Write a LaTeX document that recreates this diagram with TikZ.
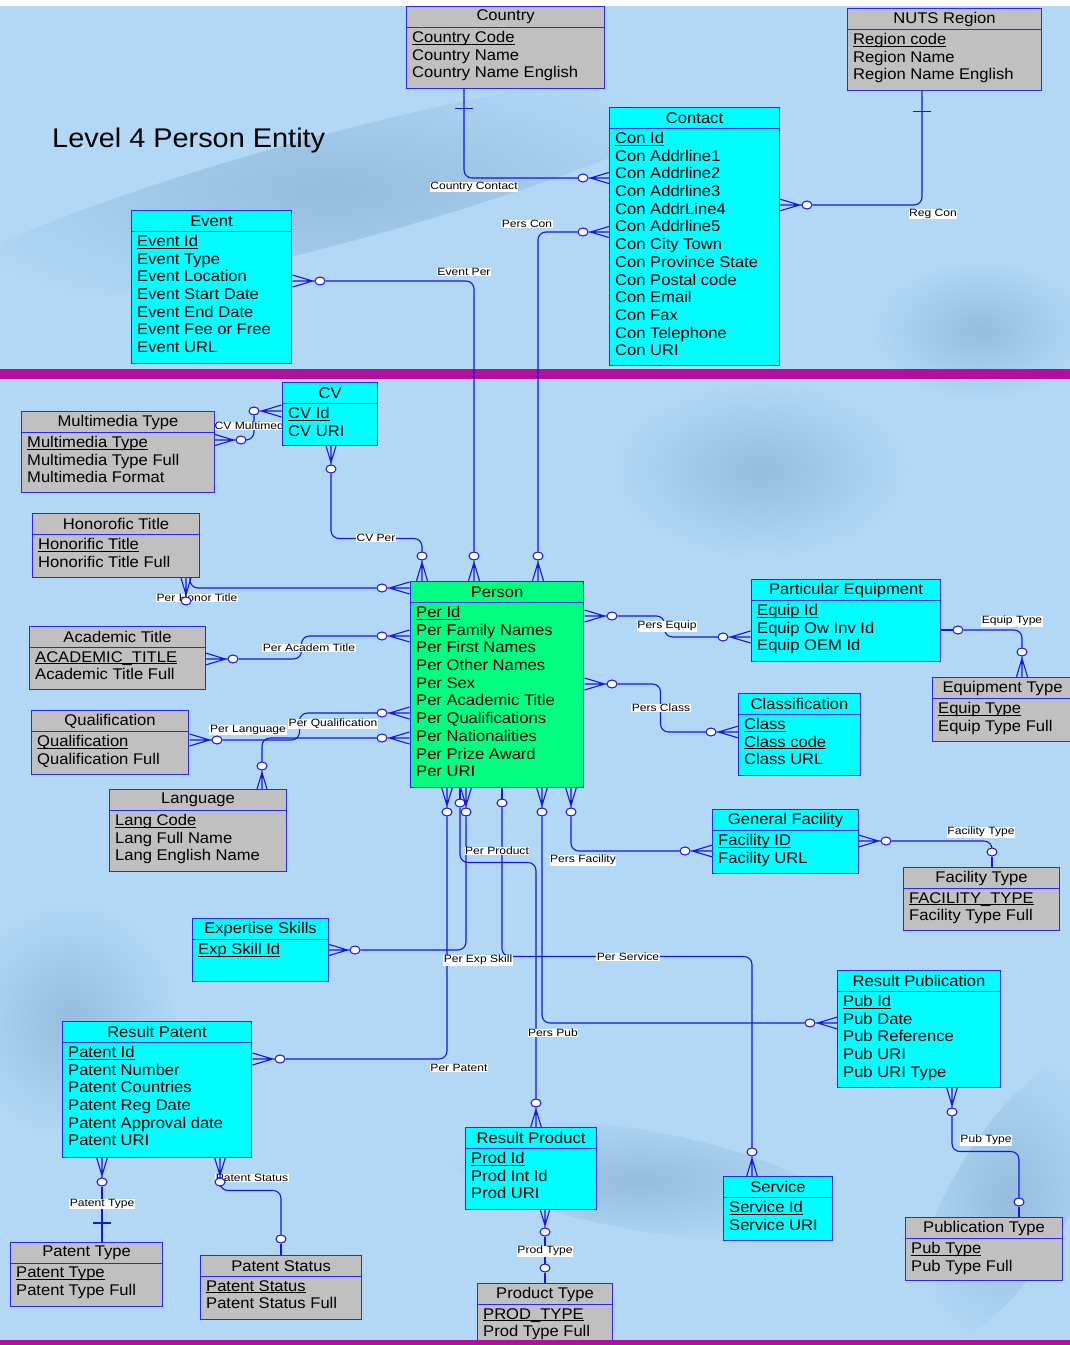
\documentclass[tikz,border=0pt]{standalone}
\usepackage{fontspec}
\setmainfont{Liberation Sans}[FakeStretch=1.07]
\newfontfamily\lblfam{Liberation Sans}[FakeStretch=1.15]
\usetikzlibrary{shapes.geometric,calc}

\pgfdeclarelayer{back}
\pgfdeclarelayer{links}
\pgfdeclarelayer{tags}
\pgfsetlayers{back,links,tags,main}

\definecolor{bgblue}{RGB}{178,216,246}
\definecolor{bgdark}{RGB}{150,188,222}
\definecolor{barpurple}{RGB}{176,16,156}
\definecolor{boxblue}{RGB}{40,40,240}
\definecolor{linkblue}{RGB}{20,20,235}
\definecolor{entcyan}{RGB}{0,255,255}
\definecolor{entgray}{RGB}{192,192,192}
\definecolor{entgreen}{RGB}{0,255,128}

\newcommand\entfont{\fontsize{15.5}{17.7}\selectfont}
\newcommand\lblfont{\lblfam\fontsize{10.5}{12}\selectfont}
\newcommand\keyattr[1]{\setbox0\hbox{#1}\rlap{\rule[-2pt]{\wd0}{0.8pt}}\box0}
% entity: name, fill, corner, width, height, title, attributes
\newcommand\entity[7]{%
  \node[ebox, fill=#2, minimum width=#4pt, minimum height=#5pt] (#1) at (#3) {};
  \draw[eline] ([yshift=-21.5pt]#1.north west) -- ([yshift=-21.5pt]#1.north east);
  \node[etitle] (#1-t) at ([yshift=-11pt]#1.north) {#6};
  \node[eattr] (#1-a) at ([xshift=6pt,yshift=-25pt]#1.north west) {#7};
}

\begin{document}
\begin{tikzpicture}[x=1pt,y=-1pt]
  \tikzset{
    ebox/.style={draw=boxblue, line width=1.1pt, anchor=north west, inner sep=0pt},
    eline/.style={draw=boxblue, line width=1.1pt},
    etitle/.style={inner sep=0pt, font=\entfont},
    eattr/.style={anchor=north west, align=left, inner sep=0pt, font=\entfont},
    ring/.style={ellipse, draw=linkblue, fill=white, line width=1pt, minimum width=10pt, minimum height=8pt, inner sep=0pt},
    conn/.style={draw=linkblue, line width=1.1pt, rounded corners=8pt},
    rlabel/.style={fill=white, inner sep=0.6pt, font=\lblfont},
    crow/.pic={\draw[conn, sharp corners] (0,0) -- (2,0) -- (22,6) (2,0) -- (22,0) (2,0) -- (22,-6);},
    onebar/.pic={\draw[conn] (0,-9) -- (0,9);}
  }
  \useasboundingbox (0,0) rectangle (1070,1345);

  % background
  \begin{pgfonlayer}{back}
    \fill[white] (0,0) rectangle (1070,1345);
    \fill[bgblue] (0,6) rectangle (1070,1345);
    \shade[inner color=bgdark, outer color=bgblue, shift={(330,190)}, rotate=15] (0,0) ellipse (420 and 55);
    \shade[inner color=bgdark, outer color=bgblue, shift={(760,470)}] (0,0) ellipse (150 and 90);
    \shade[inner color=bgdark, outer color=bgblue, shift={(70,1020)}] (0,0) ellipse (110 and 120);
    \shade[inner color=bgdark, outer color=bgblue, shift={(1010,1200)}, rotate=60] (0,0) ellipse (160 and 60);
    \shade[inner color=bgdark, outer color=bgblue, shift={(640,1180)}, rotate=-10] (0,0) ellipse (200 and 50);
    \shade[inner color=bgdark, outer color=bgblue, shift={(980,330)}] (0,0) ellipse (110 and 70);
    \fill[barpurple] (0,369) rectangle (1070,379);
  \end{pgfonlayer}

  \node[anchor=west, inner sep=0pt, font=\fontsize{27}{32}\selectfont] (title) at (52,141) {Level 4 Person Entity};

  % relationship ends
  \node[ring] (cc1) at (583,178) {};
  \node[ring] (rc1) at (807,205) {};
  \node[ring] (pc1) at (583,232) {};
  \node[ring] (pc2) at (538,556) {};
  \node[ring] (ep1) at (320,281) {};
  \node[ring] (ep2) at (474,556) {};
  \node[ring] (cm1) at (254,411) {};
  \node[ring] (cm2) at (241,440) {};
  \node[ring] (cv1) at (331,469) {};
  \node[ring] (cv2) at (422,556) {};
  \node[ring] (ph1) at (382,588) {};
  \node[ring] (ph2) at (186,601) {};
  \node[ring] (pa1) at (233,659) {};
  \node[ring] (pa2) at (382,636) {};
  \node[ring] (pq1) at (217,740) {};
  \node[ring] (pq2) at (382,713) {};
  \node[ring] (pl1) at (262,766) {};
  \node[ring] (pl2) at (382,738) {};
  \node[ring] (pe1) at (612,616) {};
  \node[ring] (pe2) at (723,637) {};
  \node[ring] (et1) at (958,630) {};
  \node[ring] (et2) at (1022,652) {};
  \node[ring] (pk1) at (612,684) {};
  \node[ring] (pk2) at (711,732) {};
  \node[ring] (ft1) at (886,841) {};
  \node[ring] (ft2) at (992,852) {};
  \node[ring] (pf1) at (571,812) {};
  \node[ring] (pf2) at (685,851) {};
  \node[ring] (px1) at (466,812) {};
  \node[ring] (px2) at (355,950) {};
  \node[ring] (pp1) at (460,803) {};
  \node[ring] (pp2) at (536,1103) {};
  \node[ring] (ps1) at (502,803) {};
  \node[ring] (ps2) at (752,1152) {};
  \node[ring] (pb1) at (542,812) {};
  \node[ring] (pb2) at (810,1023) {};
  \node[ring] (pt1) at (447,812) {};
  \node[ring] (pt2) at (280,1059) {};
  \node[ring] (pu1) at (952,1112) {};
  \node[ring] (pu2) at (1019,1202) {};
  \node[ring] (pd1) at (545,1232) {};
  \node[ring] (pd2) at (545,1268) {};
  \node[ring] (tt1) at (102,1182) {};
  \node[ring] (ts1) at (220,1182) {};
  \node[ring] (ts2) at (281,1239) {};

  \foreach \anc/\ang in {cc1.east/0, rc1.west/180, pc1.east/0, pc2.south/-90, ep1.west/180,
      ep2.south/-90, cm1.east/0, cm2.west/180, cv1.north/90, cv2.south/-90, ph1.east/0,
      ph2.north/90, pa1.west/180, pa2.east/0, pq1.west/180, pq2.east/0, pl1.south/-90,
      pl2.east/0, pe1.west/180, pe2.east/0, et2.south/-90, pk1.west/180, pk2.east/0,
      ft1.west/180, pf1.north/90, pf2.east/0, px1.north/90, px2.west/180, pp2.south/-90,
      ps2.south/-90, pb1.north/90, pb2.east/0, pt1.north/90, pt2.west/180, pu1.north/90,
      pd1.north/90, tt1.north/90, ts1.north/90}
    \pic[rotate=\ang] at (\anc) {crow};

  % entities
  \entity{country}{entgray}{406,6}{198}{82}{Country}{\keyattr{Country Code}\\Country Name\\Country Name English}
  \entity{nuts}{entgray}{847,8}{194}{82}{NUTS Region}{\keyattr{Region code}\\Region Name\\Region Name English}
  \entity{contact}{entcyan}{609,107}{170}{258}{Contact}{\keyattr{Con Id}\\Con Addrline1\\Con Addrline2\\Con Addrline3\\Con AddrLine4\\Con Addrline5\\Con City Town\\Con Province State\\Con Postal code\\Con Email\\Con Fax\\Con Telephone\\Con URI}
  \entity{event}{entcyan}{131,210}{160}{153}{Event}{\keyattr{Event Id}\\Event Type\\Event Location\\Event Start Date\\Event End Date\\Event Fee or Free\\Event URL}
  \entity{cv}{entcyan}{282,382}{95}{63}{CV}{\keyattr{CV Id}\\CV URI}
  \entity{mmtype}{entgray}{21,411}{193}{81}{Multimedia Type}{\keyattr{Multimedia Type}\\Multimedia Type Full\\Multimedia Format}
  \entity{honor}{entgray}{32,513}{167}{64}{Honorofic Title}{\keyattr{Honorific Title}\\Honorific Title Full}
  \entity{academic}{entgray}{29,626}{176}{63}{Academic Title}{\keyattr{ACADEMIC\_TITLE}\\Academic Title Full}
  \entity{qualif}{entgray}{31,710}{157}{64}{Qualification}{\keyattr{Qualification}\\Qualification Full}
  \entity{lang}{entgray}{109,789}{177}{82}{Language}{\keyattr{Lang Code}\\Lang Full Name\\Lang English Name}
  \entity{person}{entgreen}{410,581}{173}{206}{Person}{\keyattr{Per Id}\\Per Family Names\\Per First Names\\Per Other Names\\Per Sex\\Per Academic Title\\Per Qualifications\\Per Nationalities\\Per Prize Award\\Per URI}
  \entity{equip}{entcyan}{751,579}{189}{82}{Particular Equipment}{\keyattr{Equip Id}\\Equip Ow Inv Id\\Equip OEM Id}
  \entity{equiptype}{entgray}{932,677}{140}{64}{Equipment Type}{\keyattr{Equip Type}\\Equip Type Full}
  \entity{class}{entcyan}{738,693}{122}{82}{Classification}{\keyattr{Class}\\\keyattr{Class code}\\Class URL}
  \entity{facility}{entcyan}{712,809}{146}{64}{General Facility}{\keyattr{Facility ID}\\Facility URL}
  \entity{factype}{entgray}{903,867}{156}{63}{Facility Type}{\keyattr{FACILITY\_TYPE}\\Facility Type Full}
  \entity{expskill}{entcyan}{192,918}{136}{63}{Expertise Skills}{\keyattr{Exp Skill Id}}
  \entity{publication}{entcyan}{837,970}{163}{117}{Result Publication}{\keyattr{Pub Id}\\Pub Date\\Pub Reference\\Pub URI\\Pub URI Type}
  \entity{patent}{entcyan}{62,1021}{189}{136}{Result Patent}{\keyattr{Patent Id}\\Patent Number\\Patent Countries\\Patent Reg Date\\Patent Approval date\\Patent URI}
  \entity{product}{entcyan}{465,1127}{131}{82}{Result Product}{\keyattr{Prod Id}\\Prod Int Id\\Prod URI}
  \entity{service}{entcyan}{723,1176}{109}{64}{Service}{\keyattr{Service Id}\\Service URI}
  \entity{pubtype}{entgray}{905,1217}{157}{63}{Publication Type}{\keyattr{Pub Type}\\Pub Type Full}
  \entity{pattype}{entgray}{10,1242}{152}{64}{Patent Type}{\keyattr{Patent Type}\\Patent Type Full}
  \entity{patstatus}{entgray}{200,1255}{161}{64}{Patent Status}{\keyattr{Patent Status}\\Patent Status Full}
  \entity{prodtype}{entgray}{477,1283}{135}{70}{Product Type}{\keyattr{PROD\_TYPE}\\Prod Type Full}

  % connectors
  \begin{pgfonlayer}{links}
    \draw[conn] (cc1.west) -| ($(country.south west)+(58,0)$);
    \pic[rotate=90] at ($(country.south west)+(58,19)$) {onebar};
    \draw[conn] (rc1.east) -| ($(nuts.south west)+(75,0)$);
    \pic[rotate=90] at ($(nuts.south west)+(75,20)$) {onebar};
    \draw[conn] (pc1.west) -| (pc2.north);
    \draw[conn] (ep1.east) -| (ep2.north);
    \draw[conn] (cm1.south) |- (cm2.east);
    \draw[conn] (cv1.south) |- ($(cv2.north)+(0,-13)$) -- (cv2.north);
    \draw[conn] (ph1.west) -| ($(honor.south west)+(158,0)$);
    \draw[conn] (pa1.east) -| ($(pa2.west)+(-75,0)$) -- (pa2.west);
    \draw[conn] (pq1.east) -| ($(pq2.west)+(-77,0)$) -- (pq2.west);
    \draw[conn] (pl1.north) |- (pl2.west);
    \draw[conn] (pe1.east) -| ($(pe2.west)+(-53,0)$) -- (pe2.west);
    \draw[conn] (et1.west) -- (et1 -| equip.east);
    \draw[conn] (et1.east) -| (et2.north);
    \draw[conn] (pk1.east) -| ($(pk2.west)+(-45,0)$) -- (pk2.west);
    \draw[conn] (ft1.east) -| (ft2.north);
    \draw[conn] (ft2.south) -- (ft2 |- factype.north);
    \draw[conn] (pf1.south) |- (pf2.west);
    \draw[conn] (px1.south) |- (px2.east);
    \draw[conn] (pp1.north) -- (pp1 |- person.south);
    \draw[conn] (pp1.south) |- ($(pp2.north)+(0,-236)$) -- (pp2.north);
    \draw[conn] (ps1.north) -- (ps1 |- person.south);
    \draw[conn] (ps1.south) |- ($(ps2.north)+(0,-191)$) -- (ps2.north);
    \draw[conn] (pb1.south) |- (pb2.west);
    \draw[conn] (pt1.south) |- (pt2.east);
    \draw[conn] (pu1.south) |- ($(pu2.north)+(0,-46)$) -- (pu2.north);
    \draw[conn] (pu2.south) -- (pu2 |- pubtype.north);
    \draw[conn] (pd1.south) -- (pd2.north);
    \draw[conn] (pd2.south) -- (pd2 |- prodtype.north);
    \draw[conn] (tt1.south) -- (tt1 |- pattype.north);
    \pic[rotate=90] at ($(tt1)+(0,41)$) {onebar};
    \draw[conn] (ts1.south) |- ($(ts2.north)+(0,-44)$) -- (ts2.north);
    \draw[conn] (ts2.south) -- (ts2 |- patstatus.north);
  \end{pgfonlayer}

  % relationship names
  \begin{pgfonlayer}{tags}
    \node[rlabel] (l-cc) at (474,187) {Country Contact};
    \node[rlabel] (l-rc) at (933,214) {Reg Con};
    \node[rlabel] (l-pc) at (527,224) {Pers Con};
    \node[rlabel] (l-ep) at (464,272) {Event Per};
    \node[rlabel] (l-cm) at (254,426) {CV Multimedia};
    \node[rlabel] (l-cv) at (376,538) {CV Per};
    \node[rlabel] (l-ph) at (197,598) {Per Honor Title};
    \node[rlabel] (l-pa) at (309,648) {Per Academ Title};
    \node[rlabel] (l-pl) at (248,730) {Per Language};
    \node[rlabel] (l-pq) at (333,724) {Per Qualification};
    \node[rlabel] (l-pe) at (667,626) {Pers Equip};
    \node[rlabel] (l-et) at (1012,621) {Equip Type};
    \node[rlabel] (l-pk) at (661,708) {Pers Class};
    \node[rlabel] (l-ft) at (981,832) {Facility Type};
    \node[rlabel] (l-pf) at (583,860) {Pers Facility};
    \node[rlabel] (l-pp) at (497,851) {Per Product};
    \node[rlabel] (l-px) at (478,960) {Per Exp Skill};
    \node[rlabel] (l-ps) at (628,957) {Per Service};
    \node[rlabel] (l-pb) at (553,1033) {Pers Pub};
    \node[rlabel] (l-pt) at (459,1068) {Per Patent};
    \node[rlabel] (l-pu) at (986,1140) {Pub Type};
    \node[rlabel] (l-pd) at (545,1251) {Prod Type};
    \node[rlabel] (l-tt) at (102,1204) {Patent Type};
    \node[rlabel] (l-ts) at (252,1178) {Patent Status};
  \end{pgfonlayer}

  \fill[barpurple] (0,1340) rectangle (1070,1350);
\end{tikzpicture}
\end{document}
